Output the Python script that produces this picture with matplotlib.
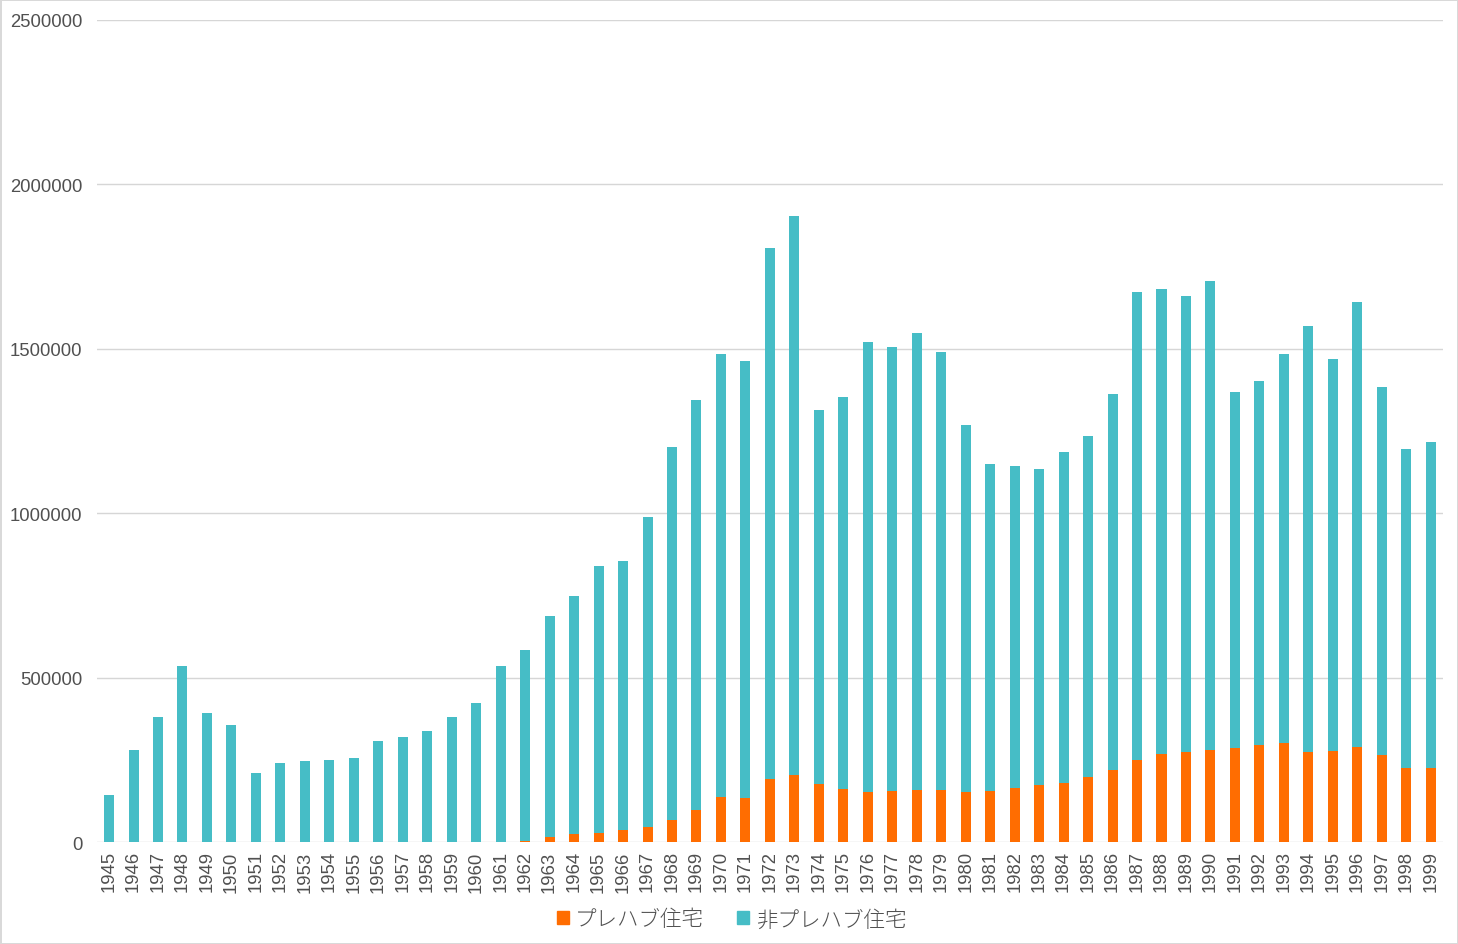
import numpy as np
import matplotlib
matplotlib.use('Agg')
import matplotlib.pyplot as plt
from matplotlib.patches import Patch

# Housing starts in Japan, 1945-1999 (prefab vs. non-prefab)
years = list(range(1945, 2000))

totals = [
    143000, 280000, 380000, 535000, 392000, 356000, 210000, 240000, 246000, 249000,
    255000, 307000, 319000, 338000, 380000, 423000, 535000, 584000, 687000, 748000,
    839000, 855000, 988000, 1201000, 1344000, 1484000, 1463000, 1806000, 1904000, 1314000,
    1353000, 1521000, 1505000, 1548000, 1490000, 1268000, 1150000, 1143000, 1134000, 1186000,
    1235000, 1362000, 1673000, 1682000, 1660000, 1706000, 1369000, 1402000, 1484000, 1569000,
    1469000, 1642000, 1384000, 1195000, 1216000,
]

prefab = [
    0, 0, 0, 0, 0, 0, 0, 0, 0, 0,
    0, 0, 0, 0, 0, 0, 0, 3000, 16000, 24000,
    28000, 36000, 47000, 67000, 97000, 138000, 134000, 192000, 205000, 176000,
    162000, 152000, 156000, 158000, 158000, 152000, 156000, 164000, 174000, 180000,
    199000, 219000, 249000, 269000, 274000, 280000, 286000, 296000, 302000, 274000,
    278000, 290000, 266000, 225000, 225000,
]

non_prefab = [t - p for t, p in zip(totals, prefab)]

labels = ['プレハブ住宅', '非プレハブ住宅']
colors = ['#FF6D01', '#46BDC6']

plt.rcParams['font.family'] = ['Liberation Sans', 'DejaVu Sans']

fig = plt.figure(figsize=(14.58, 9.45), dpi=100)
fig.patch.set_edgecolor('#d9d9d9')
fig.patch.set_linewidth(2)
ax = fig.add_axes([0.0664, 0.1079, 0.9233, 0.8699])

x = np.arange(len(years))
w = 0.41
ax.bar(x, prefab, w, color=colors[0], zorder=3)
ax.bar(x, non_prefab, w, bottom=prefab, color=colors[1], zorder=3)

ax.set_xlim(-0.5, len(years) - 0.5)
ax.set_ylim(0, 2500000)
ax.set_yticks(np.arange(0, 2500001, 500000))
ax.set_yticklabels([str(v) for v in range(0, 2500001, 500000)])
ax.set_xticks(x)
ax.set_xticklabels([str(y) for y in years], rotation=90)

ax.grid(axis='y', color='#d6d6d6', lw=1, zorder=0)
for s in ax.spines.values():
    s.set_visible(False)
ax.tick_params(axis='both', length=0, labelsize=13.3, labelcolor='#505050')
ax.tick_params(axis='y', pad=10.5)
ax.tick_params(axis='x', pad=6)

handles = [Patch(color=c) for c in colors]
leg = fig.legend(handles, labels, loc='center', bbox_to_anchor=(0.5017, 0.026), ncol=2,
                 frameon=False, handlelength=0.55, handleheight=0.55, handletextpad=0.3,
                 columnspacing=1.55,
                 prop={'family': ['Noto Sans CJK JP'], 'size': 15.5, 'weight': 'light'})
for t in leg.get_texts():
    t.set_color('#505050')

fig.savefig('out.png', dpi=100, edgecolor=fig.get_edgecolor())
